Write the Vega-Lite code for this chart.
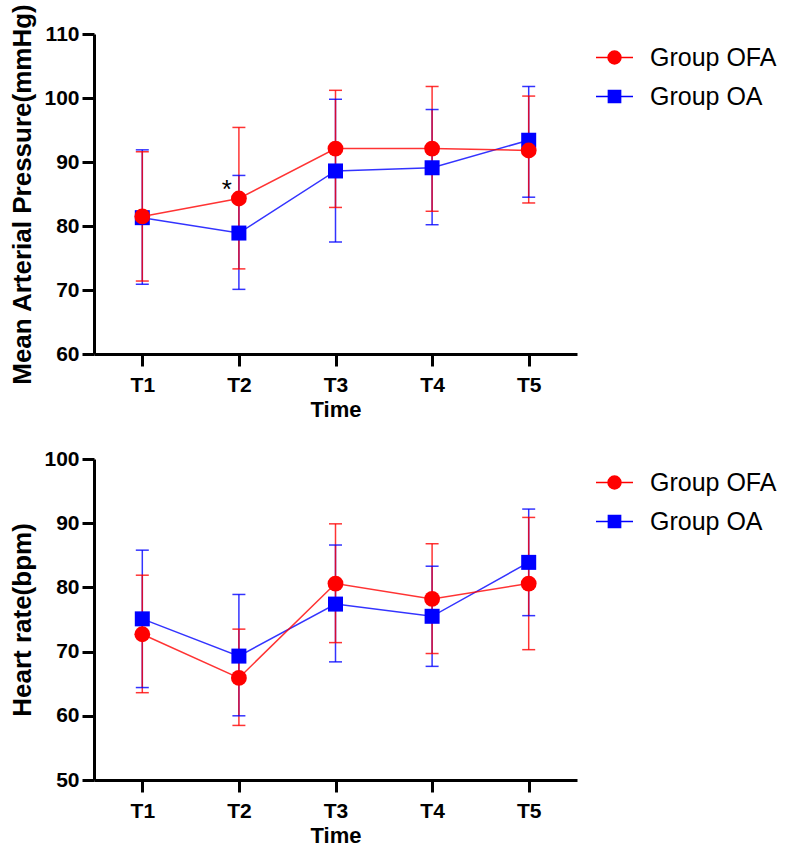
{
  "$schema": "https://vega.github.io/schema/vega-lite/v6.json",
  "padding": {"left": 9, "top": 3, "right": 0, "bottom": 0},
  "background": "white",
  "config": {
    "font": "Liberation Sans",
    "view": {"stroke": null},
    "axis": {
      "domainColor": "black", "domainWidth": 3, "tickColor": "black", "tickWidth": 3, "tickSize": 12,
      "labelFont": "Liberation Sans", "labelFontSize": 21, "labelFontWeight": "bold", "labelColor": "black",
      "titleFont": "Liberation Sans", "titleFontWeight": "bold", "titleColor": "black", "grid": false
    },
    "axisX": {"labelPadding": 8, "titleFontSize": 22, "titlePadding": 4, "labelAngle": 0},
    "axisY": {"labelPadding": 3, "titleFontSize": 26, "titlePadding": 8},
    "legend": {
      "title": null, "orient": "right", "offset": 14, "padding": 4,
      "labelFont": "Liberation Sans", "labelFontSize": 25, "labelColor": "black", "labelOffset": 16,
      "symbolSize": 1369, "symbolStrokeWidth": 1.5, "rowPadding": 6, "symbolOpacity": 1
    }
  },
  "datasets": {
    "map": [
      {"time": "T1", "group": "Group OA", "mean": 81.3, "lo": 70.9, "hi": 91.9},
      {"time": "T2", "group": "Group OA", "mean": 78.9, "lo": 70.1, "hi": 87.9},
      {"time": "T3", "group": "Group OA", "mean": 88.6, "lo": 77.5, "hi": 99.8},
      {"time": "T4", "group": "Group OA", "mean": 89.1, "lo": 80.2, "hi": 98.2},
      {"time": "T5", "group": "Group OA", "mean": 93.4, "lo": 84.5, "hi": 101.8},
      {"time": "T1", "group": "Group OFA", "mean": 81.5, "lo": 71.4, "hi": 91.6},
      {"time": "T2", "group": "Group OFA", "mean": 84.3, "lo": 73.3, "hi": 95.4},
      {"time": "T3", "group": "Group OFA", "mean": 92.1, "lo": 82.9, "hi": 101.2},
      {"time": "T4", "group": "Group OFA", "mean": 92.1, "lo": 82.3, "hi": 101.8},
      {"time": "T5", "group": "Group OFA", "mean": 91.8, "lo": 83.6, "hi": 100.3}
    ],
    "hr": [
      {"time": "T1", "group": "Group OA", "mean": 75.1, "lo": 64.4, "hi": 85.8},
      {"time": "T2", "group": "Group OA", "mean": 69.3, "lo": 60.0, "hi": 78.9},
      {"time": "T3", "group": "Group OA", "mean": 77.4, "lo": 68.4, "hi": 86.6},
      {"time": "T4", "group": "Group OA", "mean": 75.5, "lo": 67.7, "hi": 83.3},
      {"time": "T5", "group": "Group OA", "mean": 83.9, "lo": 75.6, "hi": 92.2},
      {"time": "T1", "group": "Group OFA", "mean": 72.7, "lo": 63.6, "hi": 81.9},
      {"time": "T2", "group": "Group OFA", "mean": 65.9, "lo": 58.5, "hi": 73.5},
      {"time": "T3", "group": "Group OFA", "mean": 80.6, "lo": 71.4, "hi": 89.9},
      {"time": "T4", "group": "Group OFA", "mean": 78.2, "lo": 69.7, "hi": 86.8},
      {"time": "T5", "group": "Group OFA", "mean": 80.6, "lo": 70.3, "hi": 90.9}
    ],
    "sig": [
      {"time": "T2", "value": 85.7, "label": "*"}
    ]
  },
  "spacing": 28,
  "resolve": {
    "scale": {"color": "independent"},
    "legend": {"color": "independent"}
  },
  "vconcat": [
    {
      "width": 483,
      "height": 320,
      "data": {"name": "map"},
      "encoding": {
        "x": {"field": "time", "type": "nominal", "scale": {"type": "point", "padding": 0.5}, "axis": {"title": "Time"}},
        "color": {"field": "group", "type": "nominal", "scale": {"domain": ["Group OFA", "Group OA"], "range": ["#ff0000", "#0000ff"]},
          "legend": {
            "encode": {"symbols": {"update": {
              "shape": {"signal": "datum.value === 'Group OFA' ? 'M-1,0H1M-0.35,0A0.35,0.35 0 1 0 0.35,0A0.35,0.35 0 1 0 -0.35,0Z' : 'M-1,0H1M-0.33,-0.33H0.33V0.33H-0.33Z'"},
              "fill": {"signal": "datum.value === 'Group OFA' ? '#ff0000' : '#0000ff'"},
              "stroke": {"signal": "datum.value === 'Group OFA' ? '#ff3838' : '#3838ff'"},
              "strokeWidth": {"value": 1.5},
              "size": {"value": 1369},
              "opacity": {"value": 1}
            }}}
          }
        }
      },
      "layer": [
        {
          "mark": {"type": "rule", "strokeWidth": 1.5, "opacity": 0.8},
          "encoding": {
            "y": {"field": "lo", "type": "quantitative", "scale": {"domain": [60, 110], "nice": false, "zero": false}, "axis": {"title": "Mean Arterial Pressure(mmHg)", "values": [60, 70, 80, 90, 100, 110]}},
            "y2": {"field": "hi"}
          }
        },
        {
          "mark": {"type": "tick", "size": 13, "thickness": 1.5, "opacity": 0.8},
          "encoding": {"y": {"field": "lo", "type": "quantitative"}}
        },
        {
          "mark": {"type": "tick", "size": 13, "thickness": 1.5, "opacity": 0.8},
          "encoding": {"y": {"field": "hi", "type": "quantitative"}}
        },
        {
          "mark": {"type": "line", "strokeWidth": 1.5, "opacity": 0.8},
          "encoding": {"y": {"field": "mean", "type": "quantitative"}}
        },
        {
          "transform": [{"filter": "datum.group === 'Group OA'"}],
          "mark": {"type": "point", "shape": "square", "filled": true, "opacity": 1, "size": 225},
          "encoding": {"y": {"field": "mean", "type": "quantitative"}}
        },
        {
          "transform": [{"filter": "datum.group === 'Group OFA'"}],
          "mark": {"type": "point", "shape": "circle", "filled": true, "opacity": 1, "size": 250},
          "encoding": {"y": {"field": "mean", "type": "quantitative"}}
        },
        {
          "data": {"name": "sig"},
          "mark": {"type": "text", "fontSize": 26, "dx": -12, "baseline": "middle"},
          "encoding": {
            "y": {"field": "value", "type": "quantitative"},
            "text": {"field": "label"},
            "color": {"value": "black"}
          }
        }
      ]
    },
    {
      "width": 483,
      "height": 321,
      "data": {"name": "hr"},
      "encoding": {
        "x": {"field": "time", "type": "nominal", "scale": {"type": "point", "padding": 0.5}, "axis": {"title": "Time"}},
        "color": {"field": "group", "type": "nominal", "scale": {"domain": ["Group OFA", "Group OA"], "range": ["#ff0000", "#0000ff"]},
          "legend": {
            "encode": {"symbols": {"update": {
              "shape": {"signal": "datum.value === 'Group OFA' ? 'M-1,0H1M-0.35,0A0.35,0.35 0 1 0 0.35,0A0.35,0.35 0 1 0 -0.35,0Z' : 'M-1,0H1M-0.33,-0.33H0.33V0.33H-0.33Z'"},
              "fill": {"signal": "datum.value === 'Group OFA' ? '#ff0000' : '#0000ff'"},
              "stroke": {"signal": "datum.value === 'Group OFA' ? '#ff3838' : '#3838ff'"},
              "strokeWidth": {"value": 1.5},
              "size": {"value": 1369},
              "opacity": {"value": 1}
            }}}
          }
        }
      },
      "layer": [
        {
          "mark": {"type": "rule", "strokeWidth": 1.5, "opacity": 0.8},
          "encoding": {
            "y": {"field": "lo", "type": "quantitative", "scale": {"domain": [50, 100], "nice": false, "zero": false}, "axis": {"title": "Heart rate(bpm)", "values": [50, 60, 70, 80, 90, 100]}},
            "y2": {"field": "hi"}
          }
        },
        {
          "mark": {"type": "tick", "size": 13, "thickness": 1.5, "opacity": 0.8},
          "encoding": {"y": {"field": "lo", "type": "quantitative"}}
        },
        {
          "mark": {"type": "tick", "size": 13, "thickness": 1.5, "opacity": 0.8},
          "encoding": {"y": {"field": "hi", "type": "quantitative"}}
        },
        {
          "mark": {"type": "line", "strokeWidth": 1.5, "opacity": 0.8},
          "encoding": {"y": {"field": "mean", "type": "quantitative"}}
        },
        {
          "transform": [{"filter": "datum.group === 'Group OA'"}],
          "mark": {"type": "point", "shape": "square", "filled": true, "opacity": 1, "size": 225},
          "encoding": {"y": {"field": "mean", "type": "quantitative"}}
        },
        {
          "transform": [{"filter": "datum.group === 'Group OFA'"}],
          "mark": {"type": "point", "shape": "circle", "filled": true, "opacity": 1, "size": 250},
          "encoding": {"y": {"field": "mean", "type": "quantitative"}}
        }
      ]
    }
  ]
}
